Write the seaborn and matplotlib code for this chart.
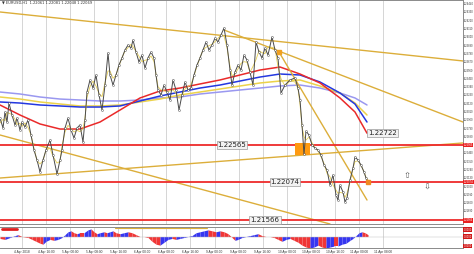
import numpy as np
import pandas as pd
import matplotlib
matplotlib.use("Agg")
import matplotlib.pyplot as plt
from matplotlib.patches import Rectangle
import seaborn as sns

# ---------------- data ----------------
bar_x = [0, 3, 5, 7, 9, 12, 15, 17, 20, 22, 25, 28, 31, 34, 37, 40, 43, 46, 50, 53, 57, 60, 62, 65, 68,
         71, 74, 77, 80, 83, 85, 87, 90, 93, 96, 99, 102, 105, 108, 110, 113, 116, 119, 122, 125, 128,
         131, 133, 136, 139, 142, 145, 148, 151, 154, 156, 158, 161, 164, 167, 170, 173, 176, 179, 182,
         185, 188, 191, 194, 197, 200, 203, 206, 209, 212, 215, 218, 221, 224, 227, 230, 232, 235, 238,
         241, 244, 247, 250, 253, 256, 259, 262, 265, 268, 272, 275, 278, 281, 285, 290, 295, 298, 300,
         302, 304, 306, 309, 312, 315, 318, 321, 324, 327, 330, 333, 336, 338, 340, 343, 345, 347, 350,
         353, 355, 358, 361, 364, 366, 368]
price = [1.22923, 1.22791, 1.23003, 1.22870, 1.23122, 1.22963, 1.22830, 1.22923, 1.22764, 1.22870,
         1.22804, 1.22897, 1.22698, 1.22499, 1.22366, 1.22207, 1.22366, 1.22499, 1.22631, 1.22432,
         1.22180, 1.22366, 1.22499, 1.22791, 1.22923, 1.22764, 1.22658, 1.22791, 1.22830, 1.22605,
         1.22897, 1.23268, 1.23428, 1.23321, 1.23494, 1.23229, 1.23029, 1.23361, 1.23786, 1.23494,
         1.23361, 1.23494, 1.23627, 1.23720, 1.23826, 1.23892, 1.23852, 1.23958, 1.23799, 1.23666,
         1.23759, 1.23587, 1.23720, 1.23799, 1.23720, 1.23494, 1.23295, 1.23229, 1.23361, 1.23268,
         1.23162, 1.23428, 1.23295, 1.23029, 1.23229, 1.23401, 1.23295, 1.23321, 1.23494, 1.23627,
         1.23720, 1.23826, 1.23932, 1.23826, 1.23892, 1.23985, 1.23932, 1.24025, 1.24118, 1.23892,
         1.23560, 1.23361, 1.23534, 1.23627, 1.23560, 1.23759, 1.23693, 1.23534, 1.23361, 1.23932,
         1.23799, 1.23720, 1.23852, 1.23759, 1.23998, 1.23826, 1.23720, 1.23255, 1.23361, 1.23428,
         1.23454, 1.23321, 1.23162, 1.22830, 1.22445, 1.22750, 1.22698, 1.22565, 1.22525, 1.22499,
         1.22432, 1.22300, 1.22233, 1.22034, 1.22167, 1.21901, 1.21835, 1.22034, 1.21941, 1.21809,
         1.21862, 1.22101, 1.22260, 1.22406, 1.22366, 1.22300, 1.22207, 1.22127, 1.22074]

ma_x = [0, 20, 40, 60, 80, 100, 120, 140, 160, 180, 200, 220, 240, 260, 280, 300, 320, 340, 355, 367]
ma_red = [1.23096, 1.22963, 1.22844, 1.22777, 1.22777, 1.22870, 1.23029, 1.23189, 1.23282, 1.23321,
          1.23375, 1.23428, 1.23494, 1.23560, 1.23600, 1.23507, 1.23388, 1.23189, 1.23003, 1.22722]
ma_blue = [1.23136, 1.23122, 1.23096, 1.23083, 1.23069, 1.23069, 1.23083, 1.23149, 1.23215, 1.23268,
           1.23321, 1.23361, 1.23414, 1.23467, 1.23507, 1.23494, 1.23401, 1.23255, 1.23109, 1.22870]
ma_yellow = [1.23202, 1.23175, 1.23136, 1.23109, 1.23083, 1.23083, 1.23096, 1.23136, 1.23175, 1.23229,
             1.23268, 1.23308, 1.23348, 1.23388, 1.23414, 1.23428, 1.23348, 1.23255, 1.23122, 1.22963]
ma_lavender = [1.23268, 1.23242, 1.23202, 1.23175, 1.23162, 1.23149, 1.23149, 1.23162, 1.23189, 1.23202,
               1.23242, 1.23268, 1.23295, 1.23321, 1.23348, 1.23361, 1.23321, 1.23255, 1.23189, 1.23096]

levels = [1.22565, 1.22074, 1.21566]
level_label_x = [232, 285, 265]
ma_label = "1.22722"
ma_label_value = 1.22722

# trend lines: (x0, price0, x1, price1)
trend_lines = [(0, 1.24330, 463, 1.23680),
               (224, 1.24091, 463, 1.22870),
               (279, 1.23799, 367, 1.21835),
               (0, 1.22127, 463, 1.22592),
               (0, 1.22698, 330, 1.21517)]

zone_x = [295, 310]
zone_price = [1.22432, 1.22592]

ind_x = [0, 5, 10, 15, 18, 22, 28, 32, 36, 40, 43, 46, 50, 54, 58, 62, 65, 68, 71, 74, 77, 80, 84, 88,
         91, 94, 97, 100, 104, 107, 110, 113, 116, 120, 124, 128, 132, 136, 140, 144, 148, 152, 156, 160,
         164, 168, 172, 176, 180, 184, 188, 192, 196, 200, 204, 208, 212, 216, 220, 224, 228, 232, 235,
         238, 242, 246, 250, 254, 258, 262, 266, 270, 274, 278, 282, 286, 290, 294, 298, 302, 306, 310,
         314, 318, 322, 326, 330, 334, 338, 342, 346, 350, 353, 356, 359, 362, 365, 368]
ind_val = [-2, -3, -1, 1, 2, 0, -1, -3, -5, -7, -8, -5, -3, -4, -3, -1, 2, 5, 6, 4, 3, 4, 4, 7, 8, 5,
           3, 4, 5, 4, 5, 6, 4, 3, 4, 5, 4, 2, 0, 0, -1, -5, -8, -9, -6, -3, -2, -3, -2, -1, 0, 1, 4, 5,
           6, 7, 6, 5, 6, 5, 3, -1, -4, -3, -1, 0, 1, 2, 3, 1, 0, 0, -1, -3, -5, -3, -2, -4, -6, -9, -11,
           -12, -11, -9, -11, -12, -11, -10, -10, -8, -7, -4, -2, 1, 4, 5, 4, 2]

x_tick_labels = ["4 Apr 2018", "4 Apr 16:00", "5 Apr 00:00", "5 Apr 08:00", "5 Apr 16:00",
                 "6 Apr 00:00", "6 Apr 08:00", "6 Apr 16:00", "9 Apr 00:00", "9 Apr 08:00",
                 "9 Apr 16:00", "10 Apr 00:00", "10 Apr 08:00", "10 Apr 16:00", "11 Apr 00:00",
                 "11 Apr 08:00"]
title_text = "\u25bc EURUSD,H1  1.22061 1.22081 1.22048 1.22069"

# ---------------- style ----------------
sns.set_theme(style="white")
plt.rcParams['font.family'] = ['DejaVu Sans']
small_font = "Liberation Sans"

W, H = 474, 254
fig = plt.figure(figsize=(W / 100, H / 100), dpi=100)
fig.patch.set_facecolor("white")
ax = fig.add_axes([0, 30 / H, 463 / W, 224 / H])
ax2 = fig.add_axes([0, 6 / H, 463 / W, 21 / H])

xmin, xmax = 0, 463
ax.set_xlim(xmin, xmax)
ax.set_ylim(1.21517, 1.24489)
ax2.set_xlim(xmin, xmax)
ax2.set_ylim(-12, 10)

grid_x = np.linspace(22, 383, len(x_tick_labels))
for a in (ax, ax2):
    a.set_facecolor("white")
    a.set_xticks(grid_x)
    a.grid(axis="x", color="#cfcfcf", lw=0.6)
    a.grid(axis="y", visible=False)
    for s in a.spines.values():
        s.set_color("#8a8a8a")
        s.set_linewidth(0.7)
    a.spines["left"].set_visible(False)
    a.yaxis.tick_right()
    a.tick_params(axis="y", labelsize=1.9, length=0.6, width=0.4, pad=0.2, colors="#333333")
ax.tick_params(axis="x", length=0, labelbottom=False)
ax2.set_xticklabels(x_tick_labels, fontfamily=small_font)
ax2.tick_params(axis="x", labelsize=2.3, length=1, pad=0.5, colors="#333333")

yt = np.arange(1.21580, 1.24470, 0.0011)
yt = [v for v in yt if min(abs(v - lv) for lv in levels) > 0.0004]
ax.set_yticks(yt)
ax.set_yticklabels([f"{v:.5f}" for v in yt], fontfamily=small_font)
ax2.set_yticks([])

# moving averages
ma_df = pd.DataFrame({
    "x": ma_x * 4,
    "v": ma_lavender + ma_yellow + ma_blue + ma_red,
    "ma": ["lav"] * len(ma_x) + ["yel"] * len(ma_x) + ["blue"] * len(ma_x) + ["red"] * len(ma_x),
})
sns.lineplot(data=ma_df, x="x", y="v", hue="ma", ax=ax, legend=False, lw=1.1,
             palette={"lav": "#9a98f0", "yel": "#ecd24a", "blue": "#2438e0", "red": "#ea2a2a"})

# trend lines
for x0, p0, x1, p1 in trend_lines:
    ax.plot([x0, x1], [p0, p1], color="#dcae3a", lw=1.0, zorder=2)

# horizontal levels
for lv in levels:
    ax.axhline(lv, color="#ee2b2b", lw=1.3, zorder=3)

# zone
ax.add_patch(Rectangle((zone_x[0], zone_price[0]), zone_x[1] - zone_x[0], zone_price[1] - zone_price[0],
                       color="#ff9a10", zorder=4, lw=0))

# price
ser = pd.Series(price)
fast = ser.rolling(3, center=True, min_periods=1).mean()
sns.lineplot(x=bar_x, y=fast.values, ax=ax, color="#e6cf55", lw=0.6, zorder=5)
sns.lineplot(x=bar_x, y=price, ax=ax, color="#4a4a4a", lw=0.7, zorder=6,
             marker="o", markersize=1.4, markerfacecolor="white", markeredgecolor="#333333",
             markeredgewidth=0.3)
ax.set_xlabel("")
ax.set_ylabel("")

# markers on the trend / end
ax.plot(trend_lines[2][0], trend_lines[2][1], marker="s", ms=3, color="#f0a020", zorder=7)
ax.plot(bar_x[-1], price[-1], marker="s", ms=2.5, color="#f08a20", zorder=7)

# level labels
bbox = dict(boxstyle="square,pad=0.15", fc="#f2f2f2", ec="#9a9a9a", lw=0.5)
for lv, lx in zip(levels, level_label_x):
    ax.text(lx, lv, f"{lv:.5f}", fontsize=5, ha="center", va="center", color="#222222",
            bbox=bbox, zorder=8)
ax.text(368, ma_label_value, ma_label, fontsize=5, ha="left", va="center", color="#222222",
        bbox=bbox, zorder=8)

# right axis red price boxes
for lv in levels:
    ax.text(1.0015, lv, f"{lv:.5f}", transform=ax.get_yaxis_transform(), fontsize=1.9,
            fontfamily=small_font, color="white", va="center", ha="left", clip_on=False,
            bbox=dict(boxstyle="square,pad=0.15", fc="#e82020", ec="none"), zorder=9)

# arrows
ax.text(407, 1.22167, "\u21e7", fontsize=6, ha="center", va="center", color="#555555")
ax.text(427, 1.22008, "\u21e9", fontsize=6, ha="center", va="center", color="#555555")

# title
ax.text(2, 1.24480, title_text, fontsize=2.6, ha="left", va="top", color="#333333")

# indicator
ax2.axhline(0, color="#bbbbbb", lw=0.3)
for i in range(len(ind_x) - 1):
    c = "#3636f0" if ind_val[i + 1] > ind_val[i] else "#f03636"
    ax2.fill_between(ind_x[i:i + 2], 0, ind_val[i:i + 2], color=c, lw=0)
ax2.plot([2, 17], [8, 8], color="#e02020", lw=2)
ax2.plot([115, 207], [9, 9], color="#dcae3a", lw=0.8)
for v in [7, 0, -10]:
    ax2.text(1.0015, v, "0.0000", transform=ax2.get_yaxis_transform(), fontsize=1.8,
             fontfamily=small_font, color="white", va="center", ha="left", clip_on=False,
             bbox=dict(boxstyle="square,pad=0.15", fc="#d01818", ec="none"))
ax2.set_xlabel("")
ax2.set_ylabel("")

fig.savefig("out.png", dpi=100, facecolor="white")
